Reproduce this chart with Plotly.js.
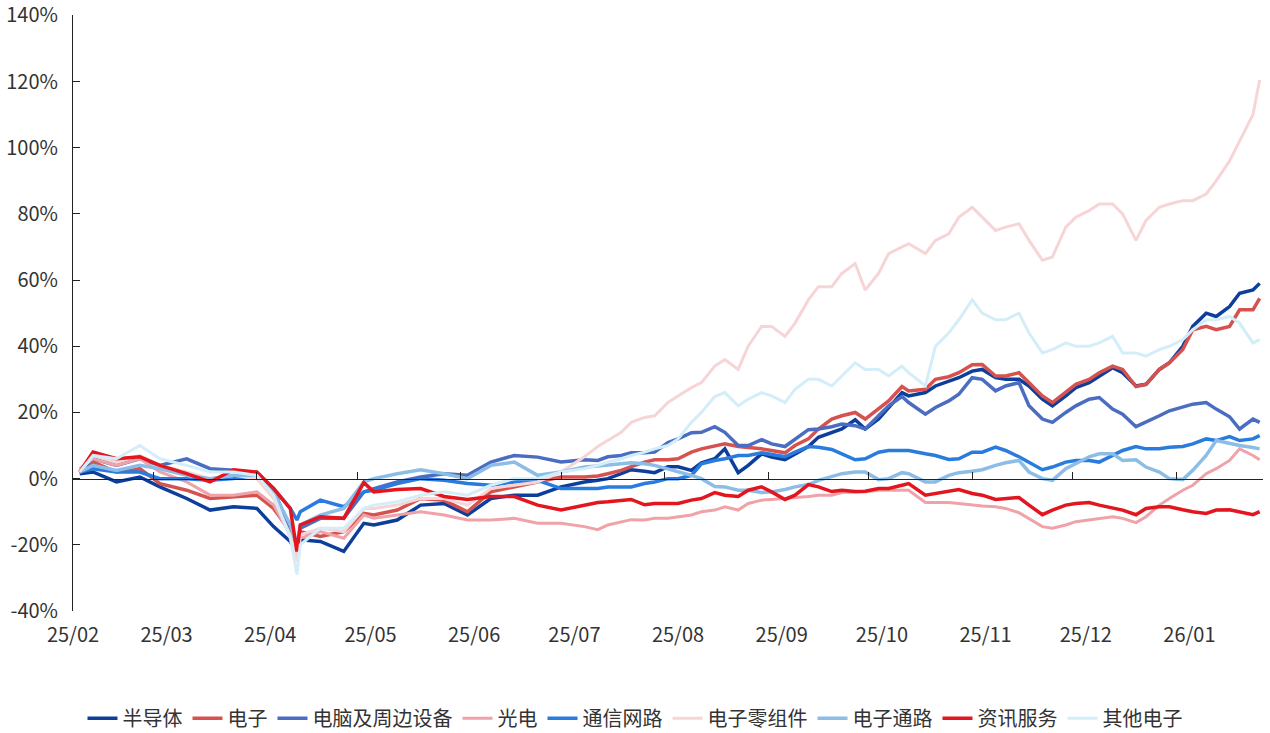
<!DOCTYPE html>
<html>
<head>
<meta charset="utf-8">
<script src="https://cdn.plot.ly/plotly-3.0.1.min.js"></script>
<style>html,body{margin:0;padding:0;background:#fff;}#chart{width:1270px;height:733px;}</style>
</head>
<body>
<div id="chart"></div>
<script>
const dates = ["2025-02-03","2025-02-07","2025-02-14","2025-02-21","2025-02-27","2025-03-07","2025-03-14","2025-03-21","2025-03-28","2025-04-02",
"2025-04-07","2025-04-09","2025-04-10","2025-04-16","2025-04-23","2025-04-29","2025-05-02","2025-05-09","2025-05-16","2025-05-23",
"2025-05-30","2025-06-06","2025-06-13","2025-06-20","2025-06-27",
"2025-07-04","2025-07-08","2025-07-11","2025-07-15","2025-07-18","2025-07-22","2025-07-25","2025-07-29","2025-08-01","2025-08-05",
"2025-08-08","2025-08-12","2025-08-15","2025-08-19","2025-08-22","2025-08-26","2025-08-29","2025-09-02","2025-09-05","2025-09-09",
"2025-09-12","2025-09-16","2025-09-19","2025-09-23","2025-09-26","2025-09-30","2025-10-03","2025-10-07","2025-10-09","2025-10-14",
"2025-10-17","2025-10-21","2025-10-24","2025-10-28","2025-10-31","2025-11-04","2025-11-07","2025-11-11","2025-11-14","2025-11-18",
"2025-11-21","2025-11-25","2025-11-28","2025-12-02","2025-12-05","2025-12-09","2025-12-12","2025-12-16","2025-12-19","2025-12-23",
"2025-12-26","2025-12-30","2026-01-02","2026-01-06","2026-01-09","2026-01-13","2026-01-16","2026-01-20","2026-01-22"];

const semiconductor = [1.5,2,-1,0.5,-2.5,-6,-9.5,-8.5,-9,-14.5,-19,-22.5,-18.5,-19,-22,-13.5,-14,-12.5,-8,-7.5,-11,-6,-5,-5,-2.5,
-1,-0.5,0,1.5,2.7,2.2,1.8,3.6,3.6,2.5,4.8,6,9,1.8,4,7.5,6.5,5.7,7.5,9.7,12.5,14,15,17.8,15,18,21.5,26,25,26,28,29.5,30.5,32.5,33,
30.5,30,30,28,24,22,25,27.5,29,31,33.5,32,28,28.5,33,35,40,46,50,49,52,56,57,59];
const electronics = [2,5,2,3,-1.5,-3.5,-6,-5.5,-5,-9,-16,-22,-16,-17.5,-16,-10.5,-11,-9.5,-6,-6.5,-10,-4,-2.5,-1,0.5,
0.5,0.8,1.5,2.5,3.6,5,5.7,5.7,6,8,9,10,10.5,9.7,9.5,9,8.5,7.8,10,12,15,18,19,20,18,21,23.5,27.8,26.5,27,30,30.8,32,34.4,34.5,
31,31,32,29,25,23,26,28.5,30,32,34,33,27.8,28.5,33,35,39,45,46,45,46,51,51,54.5];
const computer = [2,6,4,6,4,6,3,2.5,1.5,-3,-16,-22,-15,-12,-12,-4,-3,-1,0.5,1.5,1,5,7,6.5,5,
5.7,5.5,6.6,7,7.8,7.8,8,10.9,12,13.9,14,15.7,14,10,10,11.8,10.5,9.7,12,14.8,15,15.7,16.5,16,15,19,22,24.8,23,19.5,21.5,23.5,25.5,30.5,30,
26.5,28,29,22,18,17,20,22,24,24.5,21,19.5,15.7,17,19,20.5,21.7,22.5,23,21,18.7,15,18,17];
const optoelectronics = [3,6,4,6,2,-1,-5,-5,-4,-8,-17,-24,-18,-16,-18,-11,-12,-11,-10,-11,-12.5,-12.5,-12,-13.5,-13.5,
-14.5,-15.4,-14,-13,-12.4,-12.5,-12,-12,-11.5,-11,-10,-9.5,-8.5,-9.5,-7.5,-6.5,-6.3,-6,-5.8,-5.4,-5,-5,-4.2,-4.2,-4,-3.5,-3.5,-3.3,-3.5,-7.2,
-7.2,-7.2,-7.5,-8,-8.3,-8.5,-9,-10.3,-12,-14.5,-15,-14,-13,-12.4,-12,-11.5,-12,-13.3,-11.5,-8,-6,-3.5,-2,1.5,3,5.5,9,7,5.7];
const communication = [2,3,2,2,0,0,-0.5,0,1,-3,-9,-12.5,-10,-6.5,-8.5,-4,-3.5,-1.5,0,-0.5,-1.5,-2,-1,-0.5,-3,
-3,-3,-2.5,-2.5,-2.5,-1.5,-1,0,0,1,4.5,5.5,6,7,7,7.8,7.2,6.6,8,9.7,9.5,8.8,7.5,5.7,6,8,8.5,8.5,8.5,7.5,
7,5.8,6,8,8,9.5,8.5,6.6,5,2.7,3.5,5,5.5,5.5,5,7,8.5,9.7,9,9,9.5,9.7,10.5,12,11.5,12.7,11.5,12,13];
const components = [2,7,5,7,4,2,0,1,0,-6,-17,-25,-17,-15,-16,-9,-9,-8,-6,-6,-8,-3,-2,-1,2,
6.6,9.7,11.5,14,17,18.5,19,23,25,27.5,29,34,36,33,40,46,46,43,47,54,58,58,62,65,57,62,68,70,71,68,
72,74,79,82,79,75,76,77,72,66,67,76,79,81,83,83,80,72,78,82,83,84,84,86,90,96,102,110,120.5];
const distribution = [2,4,2.5,4,3,1,0,1,1,-4,-14,-20,-14,-11,-9,-1,0,1.5,2.7,1.5,0,4,5,1,2,
3.5,3.8,4,4.5,4.8,4.5,4,3,2,1,0,-2.4,-2.5,-3.5,-3.5,-4.2,-4,-3.3,-2.5,-1.8,-0.5,0.6,1.5,2,2,-0.3,0,1.8,1.5,-1,
-1,1,1.8,2.2,2.7,4,4.8,5.5,2,0,-0.5,3,4.5,6.6,7.5,7.5,5.5,5.7,3.5,2,0,-0.3,2.5,7,11.5,10.5,10,9.4,9];
const infoservice = [2,8,6,6.6,4,1.5,-1,2.7,2,-3,-9,-22,-14,-11.5,-12,-1.2,-4,-3.3,-3,-5.4,-6.3,-5.4,-5.4,-8,-9.5,
-8,-7.2,-7,-6.5,-6.3,-7.9,-7.5,-7.5,-7.5,-6.5,-6,-4.2,-5,-5.4,-3.5,-2.5,-4,-6.3,-5,-1.8,-2.5,-3.9,-3.5,-3.9,-3.8,-3,-3,-2,-1.5,-5,
-4.5,-3.6,-3.3,-4.5,-5,-6.3,-6,-5.7,-8,-10.9,-9.5,-8,-7.5,-7.2,-8,-9,-9.5,-10.9,-9,-8.5,-8.5,-9.4,-10,-10.5,-9.5,-9.4,-10,-10.9,-10];
const otherelec = [2,7,6,10,6,4,2,2,1,-5,-18,-29,-20,-15,-15,-9,-8,-7,-5,-4,-5,-2,0,0,2,
3,4,5,6,7,8,9,10,12,17,20,24.8,26,22,24,26,25,23,27,30,30,28,31,35,33,33,31,34,32,28,
40,44,48,54,50,48,48,50,44,38,39,41,40,40,41,43,38,38,37,39,40,42,45,48,48,49,47,41,42];

const names = ["半导体","电子","电脑及周边设备","光电","通信网路","电子零组件","电子通路","资讯服务","其他电子"];
const seriesList = [semiconductor, electronics, computer, optoelectronics, communication, components, distribution, infoservice, otherelec];
const colors = ["#0D3E9B","#D6524F","#4A6DC1","#EFA2A8","#2A7BDE","#F7D5D7","#8CBDE6","#E3161F","#D4EEF9"];
const widths = [3.5,3.5,3.5,3,3.5,3,3.5,3.5,3];

const monthTicks = ["2025-02-01","2025-03-01","2025-04-01","2025-05-01","2025-06-01","2025-07-01","2025-08-01","2025-09-01","2025-10-01","2025-11-01","2025-12-01","2026-01-01"];
const monthLabels = ["25/02","25/03","25/04","25/05","25/06","25/07","25/08","25/09","25/10","25/11","25/12","26/01"];
const yTickVals = [-40,-20,0,20,40,60,80,100,120,140];
const yTickText = ["-40%","-20%","0%","20%","40%","60%","80%","100%","120%","140%"];

function shiftDays(d, n){const t=new Date(d+"T00:00:00Z");t.setUTCDate(t.getUTCDate()+n);return t.toISOString().slice(0,10);}
const zeroTicks = monthTicks.slice(1).map(d=>shiftDays(d,-4));

const traces = seriesList.map((s,i)=>({
  x: dates, y: s, name: names[i], type:'scatter', mode:'lines',
  line:{color:colors[i], width:widths[i]}
}));
traces.push({x:[dates[0]], y:[null], xaxis:'x2', yaxis:'y', showlegend:false, hoverinfo:'skip', mode:'lines'});

const font = "Noto Sans CJK SC, Noto Sans, sans-serif";
const layout = {
  width:1270, height:733,
  margin:{l:73, r:7, t:15, b:122},
  paper_bgcolor:'#fff', plot_bgcolor:'#fff',
  font:{family:font, size:20, color:'#333'},
  showlegend:true,
  legend:{orientation:'h', xref:'container', yref:'container', x:0.5, xanchor:'center', y:0.02, yanchor:'middle',
          font:{family:font, size:20, color:'#333'}},
  xaxis:{type:'date', range:['2025-02-01','2026-01-23'], tickvals:monthTicks, ticktext:monthLabels,
         showline:false, ticks:'', showgrid:false, zeroline:false, ticklabelstandoff:10, ticklabeloverflow:'allow',
         tickfont:{family:font, size:20, color:'#333'}},
  xaxis2:{type:'date', matches:'x', overlaying:'x', anchor:'free', position:40/180.1, side:'bottom',
          showline:true, linecolor:'#222', linewidth:1, ticks:'inside', ticklen:7, tickcolor:'#222',
          tickvals:zeroTicks, showticklabels:false, showgrid:false, zeroline:false},
  yaxis:{range:[-40,140.1], tickmode:'array', tickvals:yTickVals, ticktext:yTickText, showline:true, linecolor:'#222', linewidth:1,
         ticks:'inside', ticklen:7, tickcolor:'#222', showgrid:false, zeroline:false, ticklabelstandoff:10, ticklabeloverflow:'allow',
         tickfont:{family:font, size:20, color:'#333'}}
};
Plotly.newPlot('chart', traces, layout, {displayModeBar:false, staticPlot:true});
</script>
</body>
</html>
